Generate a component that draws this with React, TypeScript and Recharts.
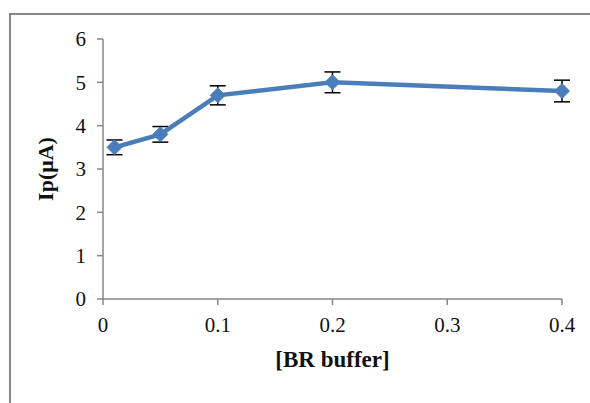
import React from "react";
import { LineChart, Line, XAxis, YAxis, ErrorBar, Label } from "recharts";

const concentrations = [0.01, 0.05, 0.1, 0.2, 0.4];
const currents = [3.5, 3.8, 4.7, 5.0, 4.8];
const errors = [0.17, 0.18, 0.22, 0.24, 0.25];
const xTicks = [0, 0.1, 0.2, 0.3, 0.4];
const yTicks = [0, 1, 2, 3, 4, 5, 6];

const data = concentrations.map((c, i) => ({
  conc: c,
  ip: currents[i],
  err: errors[i],
}));

const BLUE = "#4A7EBB";
const AXIS = "#878787";
const FONT = '"Liberation Serif", "DejaVu Serif", serif';

function Diamond(props: any) {
  const { cx, cy } = props;
  if (cx == null || cy == null) return null;
  const r = 7.5;
  return (
    <polygon
      points={`${cx},${cy - r} ${cx + r},${cy} ${cx},${cy + r} ${cx - r},${cy}`}
      fill={BLUE}
      stroke={BLUE}
      strokeWidth={1}
    />
  );
}

function AxisTick(props: any) {
  const { x, y, payload, textAnchor, verticalAnchor } = props;
  const dy = verticalAnchor === "start" ? "0.71em" : "0.355em";
  return (
    <text
      x={x}
      y={y}
      dy={dy}
      textAnchor={textAnchor}
      fill="#111"
      fontSize={21}
      style={{ fontFamily: FONT }}
    >
      {payload.value}
    </text>
  );
}

export default function App() {
  return (
    <div
      style={{
        position: "absolute",
        left: 0,
        top: 0,
        width: 590,
        height: 403,
        overflow: "hidden",
        background: "#fff",
        fontFamily: FONT,
      }}
    >
      <div
        style={{
          position: "absolute",
          left: 9,
          top: 13,
          width: 700,
          height: 500,
          border: `2px solid ${AXIS}`,
        }}
      />
      <div style={{ position: "absolute", left: 0, top: 0 }}>
        <LineChart
          width={590}
          height={403}
          data={data}
          margin={{ top: 39, right: 28, left: 0, bottom: 0 }}
        >
          <XAxis
            dataKey="conc"
            type="number"
            domain={[0, 0.4]}
            ticks={xTicks}
            height={104}
            stroke={AXIS}
            strokeWidth={1.5}
            tickSize={6}
            tickMargin={12}
            tick={<AxisTick />}
            tickLine={{ stroke: AXIS }}
          >
            <Label
              content={(p: any) => {
                const vb = p.viewBox || {};
                return (
                  <text
                    x={vb.x + vb.width / 2}
                    y={vb.y + 68}
                    textAnchor="middle"
                    style={{ fontFamily: FONT }}
                    fontWeight="bold"
                    fontSize={23}
                    fill="#111"
                  >
                    [BR buffer]
                  </text>
                );
              }}
            />
          </XAxis>
          <YAxis
            type="number"
            domain={[0, 6]}
            ticks={yTicks}
            width={103}
            stroke={AXIS}
            strokeWidth={1.5}
            tickSize={6}
            tickMargin={11}
            tick={<AxisTick />}
            tickLine={{ stroke: AXIS }}
          >
            <Label
              content={(p: any) => {
                const vb = p.viewBox || {};
                const x = 53;
                const y = vb.y + vb.height / 2;
                return (
                  <text
                    x={x}
                    y={y}
                    textAnchor="middle"
                    transform={`rotate(-90, ${x}, ${y})`}
                    style={{ fontFamily: FONT }}
                    fontWeight="bold"
                    fontSize={22}
                    fill="#111"
                  >
                    Ip(μA)
                  </text>
                );
              }}
            />
          </YAxis>
          <Line
            dataKey="ip"
            stroke={BLUE}
            strokeWidth={4.5}
            dot={<Diamond />}
            activeDot={false}
            isAnimationActive={false}
          >
            <ErrorBar
              dataKey="err"
              direction="y"
              width={8}
              stroke="#000"
              strokeWidth={1.5}
            />
          </Line>
        </LineChart>
      </div>
    </div>
  );
}
